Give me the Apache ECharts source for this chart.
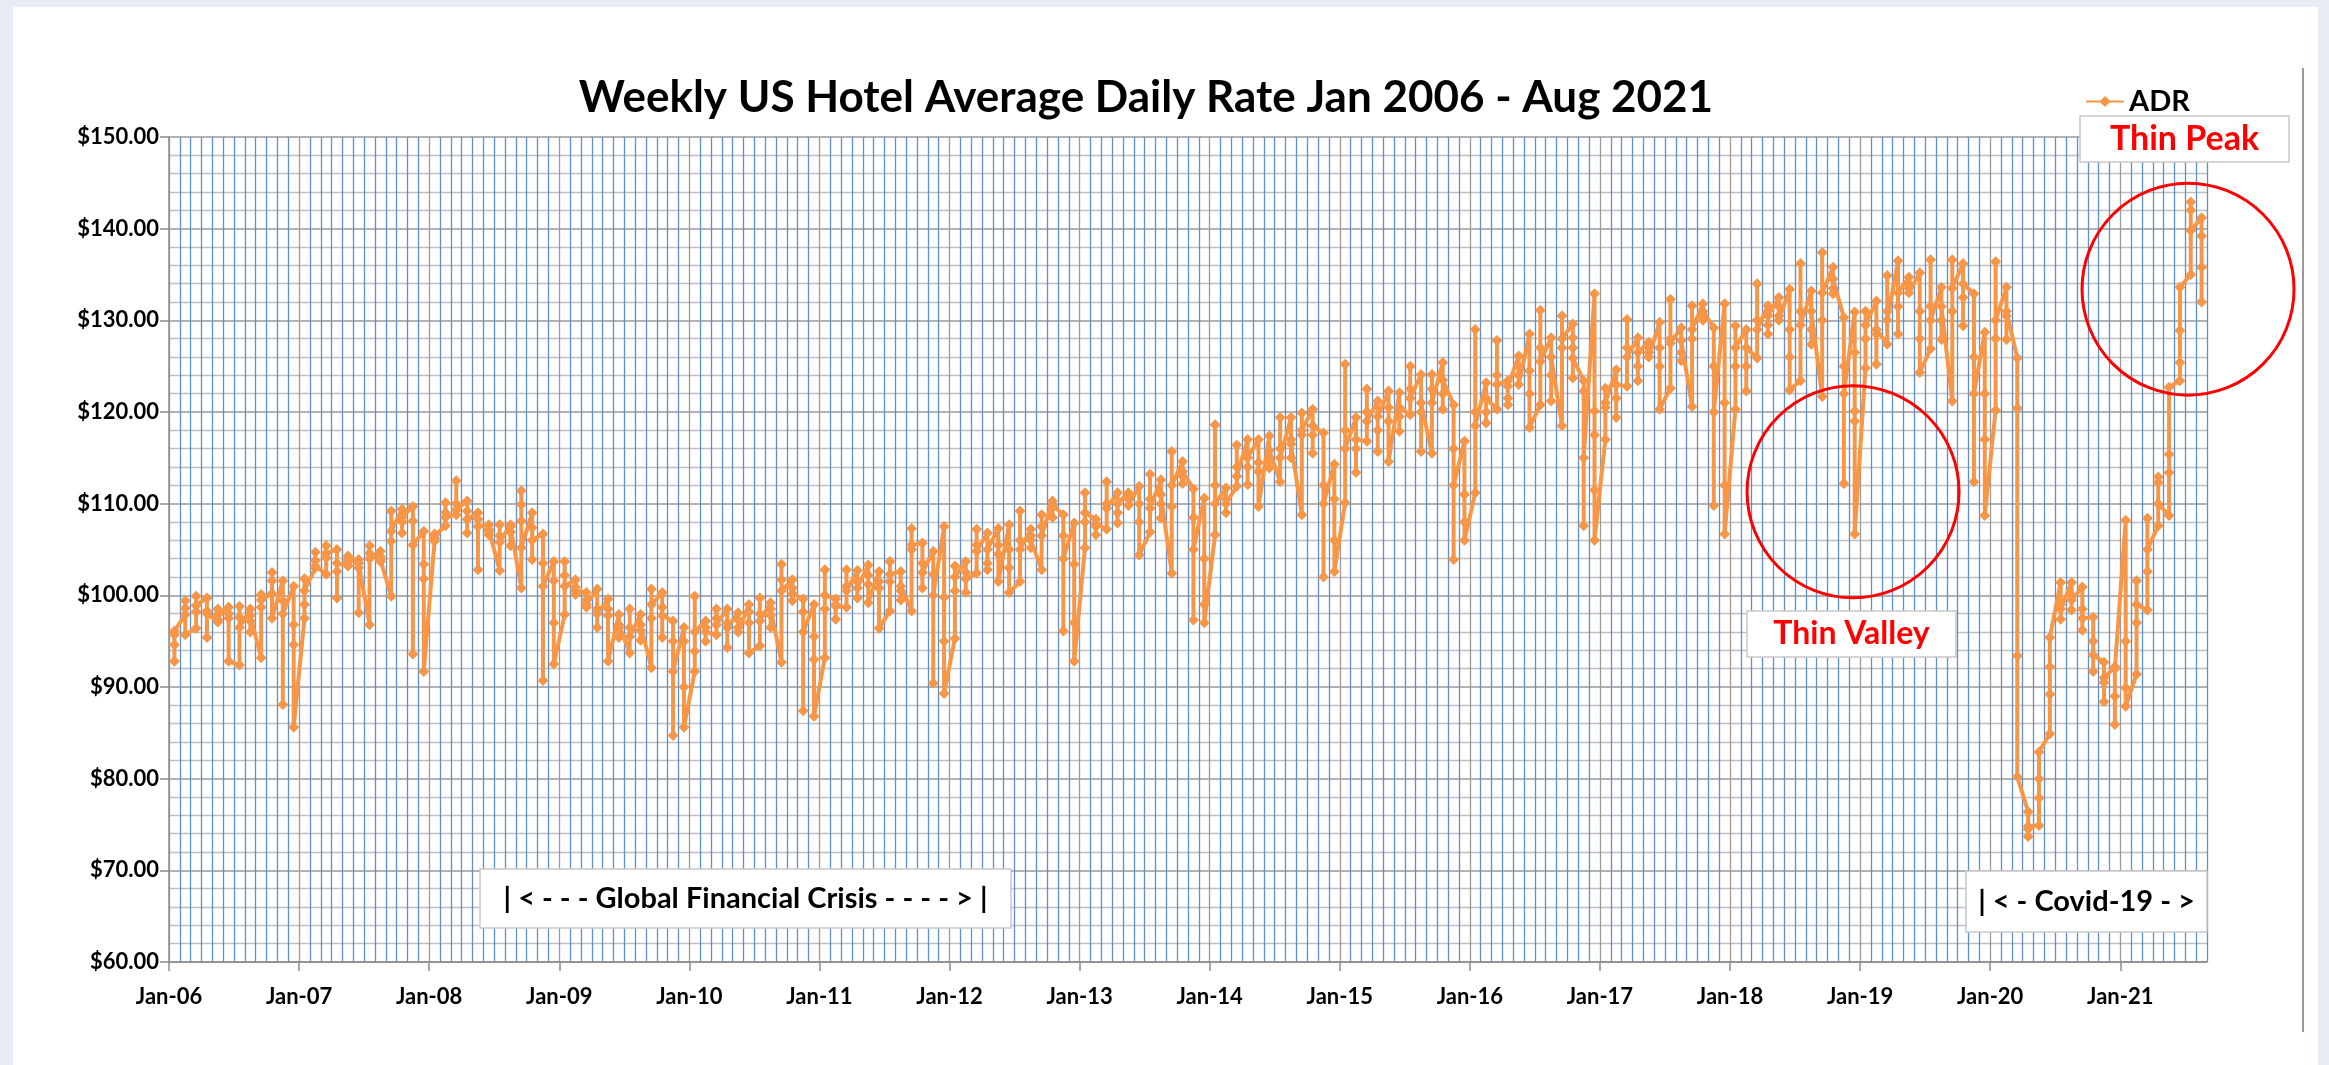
<!DOCTYPE html>
<html>
<head>
<meta charset="utf-8">
<script src="https://cdn.jsdelivr.net/npm/echarts@6/dist/echarts.min.js"></script>
<style>
html,body{margin:0;padding:0;width:2329px;height:1065px;background:#e8edf5;overflow:hidden;}
#card{position:absolute;left:13px;top:7px;width:2305px;height:1058px;background:#ffffff;}
#chart{position:absolute;left:0;top:0;width:2329px;height:1065px;}
</style>
</head>
<body>
<div id="card"></div>
<div id="chart"></div>
<script>
// Weekly ADR values grouped by month (Excel date axis with monthly base unit)
const adr2006 = [[92.8,94.6,95.7,96.1],[97.9,99.4,98.6,95.7],[96.4,98.2,99.9,98.9],[99.7,98.3,95.4,98.0],[97.1,98.5,97.4,97.9],[98.7,97.5,98.0,92.8],[92.4,98.8,97.6,96.5],[98.5,97.2,96.0,97.8],[93.2,100.1,98.7,99.5],[100.2,102.5,101.6,97.5],[101.6,99.4,88.1,98.0],[101.0,96.8,94.6,85.6]];
const adr2007 = [[97.5,99.0,101.8,100.5],[103.0,104.7,103.8,103.2],[102.3,105.4,104.1,104.6],[105.0,102.6,99.7,103.5],[103.2,104.3,103.6,103.9],[103.9,103.0,98.1,103.5],[96.8,105.4,104.6,104.0],[104.8,103.7,104.2,103.9],[99.9,105.9,109.2,107.0],[109.4,108.0,106.8,108.5],[109.7,108.1,93.6,105.5],[107.0,103.4,101.8,91.7]];
const adr2008 = [[105.9,106.7,106.2,106.5],[107.6,110.1,109.0,108.5],[108.8,112.5,110.0,109.3],[110.3,109.2,106.8,108.3],[109.0,108.3,102.8,107.5],[107.7,106.6,107.2,107.0],[102.7,107.7,106.5,105.8],[107.7,105.4,106.9,107.5],[100.8,111.4,109.9,108.1,105.2],[109.0,107.4,103.9,106.0],[106.7,103.5,90.7,101.0],[103.7,101.6,97.0,92.5]];
const adr2009 = [[97.9,102.2,103.7,101.0],[101.7,100.1,100.9,100.5],[100.3,98.7,99.5,99.0],[100.7,98.5,96.5,98.0],[99.6,98.5,97.8,92.8],[97.9,96.5,95.4,96.8],[93.7,98.5,96.5,95.5],[97.9,96.2,95.1,96.8],[92.1,97.5,100.7,99.0],[100.3,98.7,95.4,97.8],[97.2,95.0,84.7,91.7],[96.5,95.0,90.0,85.6]];
const adr2010 = [[91.7,93.9,99.9,96.0],[97.2,95.0,96.5,96.0],[95.7,98.5,97.5,96.8],[98.5,94.3,97.0,96.5],[98.1,96.5,97.3,96.0],[99.0,97.0,98.2,93.7],[94.5,99.7,98.0,97.2],[99.2,96.5,97.8,98.5],[92.7,101.7,103.4,100.5],[101.7,99.4,100.8,100.2],[99.6,98.2,87.4,96.0],[99.0,95.5,93.0,86.8]];
const adr2011 = [[93.2,98.5,102.8,100.0],[99.6,97.4,98.8,99.0],[98.7,102.8,101.0,100.5],[102.7,99.7,101.5,100.8],[103.3,101.2,102.2,99.2],[102.6,100.8,101.5,96.4],[98.3,103.7,101.5,102.3],[102.6,100.5,99.5,101.0],[98.3,105.0,107.3,105.5],[105.7,103.5,100.8,102.5],[104.8,102.3,90.4,100.0],[107.5,99.8,95.0,89.3]];
const adr2012 = [[95.3,100.5,103.2,102.0],[103.7,100.3,102.5,101.8],[102.4,105.5,107.2,104.8],[106.8,103.5,102.8,105.0],[107.3,104.5,105.5,101.5],[107.7,105.0,103.0,100.3],[101.5,109.2,106.0,105.0],[107.2,105.2,106.5,106.0],[102.8,108.8,107.5,106.5],[110.3,109.6,108.5,109.8],[108.8,106.5,96.1,104.0],[107.9,103.4,97.0,92.8]];
const adr2013 = [[105.2,108.0,111.2,109.0],[108.3,106.6,107.5,107.8],[107.2,112.4,110.0,109.5],[111.2,109.0,107.9,110.0],[111.2,110.5,110.8,109.8],[111.9,110.0,108.0,104.4],[106.9,113.2,110.5,109.5],[112.6,110.0,108.4,111.0],[102.4,109.7,115.7,112.0],[114.6,112.2,113.0,113.5],[111.6,108.5,97.3,105.0],[110.6,104.0,99.0,97.0]];
const adr2014 = [[106.6,112.0,118.6,110.0],[111.7,109.0,110.5,110.0],[111.9,116.4,114.0,113.0],[117.0,114.0,112.1,115.0],[117.0,113.5,114.5,109.7],[117.4,115.0,113.9,115.8],[112.4,119.4,116.0,115.0],[119.4,117.0,115.0,116.5],[108.8,117.5,119.9,118.0],[120.3,117.5,115.5,118.5],[117.7,112.0,102.0,110.0],[114.3,110.5,106.0,102.6]];
const adr2015 = [[110.1,118.0,125.2,116.0],[119.4,116.0,113.4,117.0],[116.8,122.5,120.0,119.0],[121.2,118.0,115.7,119.5],[122.3,119.0,120.5,114.6],[122.1,119.5,117.9,120.5],[119.7,125.0,122.5,121.5],[124.1,120.0,115.7,121.0],[115.5,122.5,124.1,121.0],[125.4,122.0,120.3,123.5],[120.8,116.0,103.9,112.0],[116.8,111.0,108.0,106.0]];
const adr2016 = [[111.2,120.0,129.0,118.5],[123.2,120.0,118.8,121.5],[120.3,127.8,124.0,123.0],[123.4,121.5,120.8,122.8],[126.1,124.0,125.0,123.0],[128.5,124.5,122.0,118.3],[120.8,131.1,127.0,125.5],[128.1,124.0,121.2,126.0],[118.5,127.0,130.5,128.0],[129.6,128.1,127.0,123.7,125.9],[123.4,122.3,107.6,115.0],[132.9,120.1,117.5,111.5,106.0]];
const adr2017 = [[117.0,120.5,122.6,121.0],[124.6,121.5,119.4,123.0],[122.8,130.1,127.0,126.0],[128.1,125.0,123.4,126.5],[127.6,126.5,127.0,126.0],[129.8,127.0,125.0,120.3],[122.6,132.3,128.0,127.5],[129.2,126.5,125.6,127.8],[120.6,128.0,131.6,129.0],[131.8,130.5,130.0,131.0],[129.2,125.0,109.8,120.0],[131.8,121.0,112.0,106.7]];
const adr2018 = [[120.3,125.0,129.4,127.0],[129.0,125.0,122.3,127.0],[125.9,134.0,130.0,129.0],[131.6,129.5,128.5,130.5],[132.5,130.5,131.5,130.0],[133.4,129.0,126.0,122.4],[123.4,136.2,131.0,129.5],[133.2,129.0,127.4,131.0],[121.7,130.0,137.4,133.0],[135.8,133.5,132.9,134.5],[130.3,125.0,112.2,122.0],[130.9,126.5,120.1,119.0,106.7]];
const adr2019 = [[124.8,128.0,131.0,129.5],[132.1,128.5,125.2,129.0],[127.4,134.9,131.0,130.0],[136.5,131.5,128.5,133.0],[134.7,133.5,134.0,133.0],[135.2,131.0,128.0,124.3],[126.9,136.6,131.5,130.0],[133.6,130.0,127.9,131.5],[121.2,131.0,136.6,133.5],[136.2,132.5,129.4,134.0],[132.9,126.0,112.4,122.0],[128.7,122.0,117.0,108.7]];
const adr2020 = [[120.2,128.0,136.4,130.0],[133.6,130.5,127.9,131.0],[125.9,120.4,93.4,80.2],[76.4,74.5,73.7,74.8],[74.9,77.9,80.0,82.9],[84.9,89.2,92.2,95.4],[101.4,99.0,97.4,98.5],[101.4,100.0,98.4,99.5],[100.9,98.5,96.2,97.5],[97.6,95.0,91.7,93.5],[92.7,90.5,88.4,91.0],[92.2,89.0,85.9,92.0]];
const adr2021 = [[108.2,95.0,89.9,87.9],[91.4,97.0,101.6,99.0],[98.4,102.6,108.4,105.0],[107.6,112.9,112.3,110.0],[108.7,113.4,115.4,122.7],[123.4,125.4,128.9,133.6],[135.0,142.9,142.0,139.8],[141.2,139.2,135.8,132.0]];

const yearLabels = ['Jan-06','Jan-07','Jan-08','Jan-09','Jan-10','Jan-11','Jan-12','Jan-13','Jan-14','Jan-15','Jan-16','Jan-17','Jan-18','Jan-19','Jan-20','Jan-21'];
const seriesName = 'ADR';
const chartTitle = 'Weekly US Hotel Average Daily Rate Jan 2006 - Aug 2021';
const noteGFC = '| < - - - Global Financial Crisis - - - - > |';
const noteCovid = '| < - Covid-19 - >';
const notePeak = 'Thin Peak';
const noteValley = 'Thin Valley';

const allYears = [adr2006,adr2007,adr2008,adr2009,adr2010,adr2011,adr2012,adr2013,adr2014,adr2015,adr2016,adr2017,adr2018,adr2019,adr2020,adr2021];
const points = [];
allYears.forEach((yr, yi) => yr.forEach((weeks, mi) => {
  const x = yi * 12 + mi + 0.5;
  weeks.forEach(v => points.push([x, v]));
}));
const monthCount = 188;

const FONT = 'Lato, "Open Sans", sans-serif';
const NARROW = '"Liberation Sans Narrow", Lato, sans-serif';
const BLUE = '#5f8fcf';
const GRAY = '#9a9a9a';
const vColors = [GRAY]; for (let i = 0; i < 11; i++) vColors.push(BLUE);
const yearTicks = yearLabels.map((_, i) => i * 12);

const chart = echarts.init(document.getElementById('chart'), null, {renderer: 'canvas'});
const option = {
  animation: false,
  backgroundColor: 'transparent',
  grid: {left: 169, top: 137, width: 2038, height: 825, containLabel: false},
  legend: {
    data: [seriesName], left: 2080, top: 82, itemWidth: 38, itemHeight: 14, itemGap: 4,
    textStyle: {fontFamily: FONT, fontSize: 29, fontWeight: 'bold', color: '#000'}
  },
  xAxis: [
    {type: 'value', position: 'bottom', min: 0, max: monthCount, interval: 1,
     axisLine: {show: false}, axisTick: {show: false}, axisLabel: {show: false},
     splitLine: {show: true, lineStyle: {color: vColors, width: 1.3}}},
    {type: 'value', position: 'bottom', min: 0, max: monthCount, interval: 12,
     axisLine: {show: true, onZero: false, lineStyle: {color: '#8c8c8c', width: 1.5}},
     axisTick: {show: true, length: 9, customValues: yearTicks, lineStyle: {color: '#8c8c8c', width: 1.5}},
     axisLabel: {show: true, customValues: yearTicks, margin: 24, fontFamily: NARROW, fontSize: 22, fontWeight: 'bold', color: '#000',
       formatter: v => (v % 12 === 0 ? yearLabels[v / 12] : '')},
     splitLine: {show: false}}
  ],
  yAxis: {
    type: 'value', min: 60, max: 150, interval: 10,
    axisLine: {show: true, lineStyle: {color: '#8c8c8c', width: 1.5}},
    axisTick: {show: true, length: 9, lineStyle: {color: '#8c8c8c', width: 1.5}},
    axisLabel: {margin: 10, fontFamily: NARROW, fontSize: 22, fontWeight: 'bold', color: '#000',
      formatter: v => '$' + v.toFixed(2)},
    splitLine: {show: true, lineStyle: {color: '#999999', width: 1.5}},
    minorTick: {show: false, splitNumber: 5},
    minorSplitLine: {show: true, lineStyle: {color: '#c0c0c0', width: 1.3}}
  },
  series: [{
    name: seriesName, type: 'line', xAxisIndex: 0, data: points,
    symbol: 'diamond', symbolSize: 11, showAllSymbol: true,
    lineStyle: {color: '#F79646', width: 4},
    itemStyle: {color: '#F79646'}, z: 5
  }]
};
chart.setOption(option);

const peakC = chart.convertToPixel({xAxisIndex: 0, yAxisIndex: 0}, [186.25, 133.4]);
const valleyC = chart.convertToPixel({xAxisIndex: 0, yAxisIndex: 0}, [155.35, 111.3]);
function box(x, y, w, h, text, color, size, family) {
  return {type: 'group', z: 100, children: [
    {type: 'rect', shape: {x: x, y: y, width: w, height: h}, style: {fill: '#fff', stroke: '#c8c8c8', lineWidth: 1.5}},
    {type: 'text', x: x + w / 2, y: y + h / 2, style: {text: text, fill: color, font: 'bold ' + size + 'px ' + family, textAlign: 'center', textVerticalAlign: 'middle'}}
  ]};
}
chart.setOption({
  graphic: [
    {type: 'text', z: 100, x: 1146, y: 98, style: {text: chartTitle, fill: '#000', font: 'bold 44px ' + FONT, textAlign: 'center', textVerticalAlign: 'middle'}},
    {type: 'line', z: 100, shape: {x1: 2303, y1: 68, x2: 2303, y2: 1032}, style: {stroke: '#9a9a9a', lineWidth: 2}},
    {type: 'circle', z: 100, shape: {cx: peakC[0], cy: peakC[1], r: 106}, style: {fill: 'none', stroke: '#ff0000', lineWidth: 3}},
    {type: 'circle', z: 100, shape: {cx: valleyC[0], cy: valleyC[1], r: 106}, style: {fill: 'none', stroke: '#ff0000', lineWidth: 3}},
    box(2080, 116, 209, 46, notePeak, '#ff0000', 34, FONT),
    box(1747, 611, 209, 46, noteValley, '#ff0000', 32, FONT),
    box(480, 869, 531, 59, noteGFC, '#000', 29, FONT),
    box(1966, 871, 241, 61, noteCovid, '#000', 29, FONT)
  ]
});
</script>
</body>
</html>
